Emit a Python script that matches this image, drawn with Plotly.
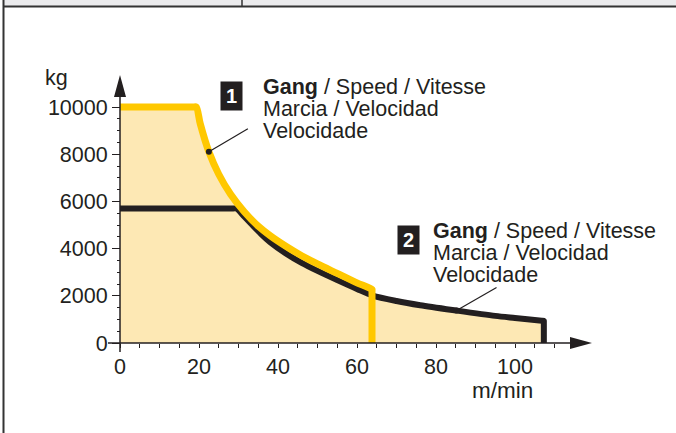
import plotly.graph_objects as go

# ---- data ----
gear1_speed = [0, 18.5, 19.3, 20.3, 22.5, 25, 28, 31.5, 35, 38, 42, 46, 50, 55, 60, 63.8, 63.8, 63.8]
gear1_load = [10000, 10000, 10000, 9300, 8100, 7150, 6300, 5550, 4950, 4550, 4100, 3700, 3350, 2950, 2550, 2270, 2230, 0]
gear2_speed = [0, 28.7, 29.5, 31.5, 33.5, 36, 38, 42, 46, 50, 55, 60, 64, 70, 76, 85, 95, 100, 106.8, 107.3, 107.3, 107.3]
gear2_load = [5700, 5700, 5700, 5350, 5000, 4575, 4275, 3795, 3395, 3055, 2665, 2290, 2010, 1780, 1600, 1380, 1150, 1060, 943, 935, 925, 0]
x_tick_labels = ["0", "20", "40", "60", "80", "100"]
y_tick_labels = ["0", "2000", "4000", "6000", "8000", "10000"]
label_lines = ["<b>Gang</b> / Speed / Vitesse", "Marcia / Velocidad", "Velocidade"]
pointer1 = (22.5, 8100)
pointer2 = (85.2, 1380)

# ---- geometry ----
W, H = 676, 433
X0PX, Y0PX = 120, 343          # pixel position of the origin
PX_X = 3.95                    # pixels per m/min
PX_Y = 47.2 / 2000             # pixels per kg
DARK = "#231f20"
YELLOW = "#ffc800"
FILL = "#fde8b4"
FONT = "Liberation Sans, Arial, sans-serif"
FS = 21.5

xr = [-X0PX / PX_X, (W - X0PX) / PX_X]
yr = [-(H - Y0PX) / PX_Y, Y0PX / PX_Y]

def ux(px):  # pixel length -> data units (x)
    return px / PX_X

def uy(px):
    return px / PX_Y

fig = go.Figure()

# fill area under the envelope
n1 = len(gear1_speed) - 2
fx = gear1_speed[:n1] + [s for s in gear2_speed if s > gear1_speed[-1]] + [0]
fy = gear1_load[:n1] + [l for s, l in zip(gear2_speed, gear2_load) if s > gear1_speed[-1]] + [0]
fig.add_trace(go.Scatter(x=fx, y=fy, fill="toself", fillcolor=FILL, mode="none",
                         hoverinfo="skip", showlegend=False))

fig.add_trace(go.Scatter(x=gear2_speed, y=gear2_load, mode="lines",
                         line=dict(color=DARK, width=6, shape="spline", smoothing=0.8),
                         showlegend=False))
fig.add_trace(go.Scatter(x=gear1_speed, y=gear1_load, mode="lines",
                         line=dict(color=YELLOW, width=7, shape="spline", smoothing=0.8),
                         showlegend=False))

# pointer dots
fig.add_trace(go.Scatter(x=[pointer1[0], pointer2[0]], y=[pointer1[1], pointer2[1]],
                         mode="markers", marker=dict(color=DARK, size=6), showlegend=False))

shapes = []
# pointer lines
for (px_, py_), (dx, dy) in [(pointer1, (39, 23)), (pointer2, (40, 23))]:
    shapes.append(dict(type="line", xref="x", yref="y", x0=px_, y0=py_,
                       x1=px_ + ux(dx), y1=py_ + uy(dy), line=dict(color=DARK, width=1.2)))

# axis lines with arrows
x_tip = ux(592 - X0PX)
y_tip = uy(Y0PX - 75)
shapes.append(dict(type="line", xref="x", yref="y", x0=-ux(12), y0=0, x1=x_tip - ux(10), y1=0,
                   line=dict(color=DARK, width=1.5)))
shapes.append(dict(type="line", xref="x", yref="y", x0=0, y0=-uy(9), x1=0, y1=y_tip - uy(10),
                   line=dict(color=DARK, width=1.5)))
shapes.append(dict(type="path", xref="x", yref="y",
                   path=f"M {x_tip - ux(22)} {uy(6)} L {x_tip} 0 L {x_tip - ux(22)} {-uy(6)} Z",
                   fillcolor=DARK, line=dict(width=0)))
shapes.append(dict(type="path", xref="x", yref="y",
                   path=f"M {-ux(6)} {y_tip - uy(22)} L 0 {y_tip} L {ux(6)} {y_tip - uy(22)} Z",
                   fillcolor=DARK, line=dict(width=0)))

# frame decoration (paper coords)
def pxx(px):
    return px / W

def pxy(py):
    return 1 - py / H

shapes.append(dict(type="rect", xref="paper", yref="paper", x0=pxx(4), x1=1, y0=pxy(6.5), y1=1,
                   fillcolor="#ebebed", line=dict(width=0), layer="below"))
shapes.append(dict(type="line", xref="paper", yref="paper", x0=pxx(3.5), x1=1, y0=pxy(6.5), y1=pxy(6.5),
                   line=dict(color="#333333", width=2)))
shapes.append(dict(type="line", xref="paper", yref="paper", x0=pxx(3.5), x1=pxx(3.5), y0=0, y1=1,
                   line=dict(color="#333333", width=2)))
shapes.append(dict(type="line", xref="paper", yref="paper", x0=pxx(242), x1=pxx(242), y0=pxy(6.5), y1=1,
                   line=dict(color="#333333", width=1.5)))

annotations = []
def txt(text, x, y, size=FS, xanchor="left", yanchor="middle", **kw):
    annotations.append(dict(text=text, x=pxx(x), y=pxy(y), xref="paper", yref="paper",
                            xanchor=xanchor, yanchor=yanchor, showarrow=False,
                            font=dict(family=FONT, size=size, color=DARK), **kw))

txt("kg", 56, 78, xanchor="center")
txt("m/min", 502, 390, size=22.5, xanchor="center")

for num, bx, tx, ty in [("1", 231, 261, 87), ("2", 408, 431, 231)]:
    annotations.append(dict(text=f"<b>{num}</b>", x=pxx(bx), y=pxy(ty + 9), xref="paper", yref="paper",
                            xanchor="center", yanchor="middle", showarrow=False, width=19, height=26,
                            bgcolor=DARK, font=dict(family=FONT, size=20, color="white")))
    for i, line in enumerate(label_lines):
        txt(line, tx, ty + 22 * i)

xt_vals = [5 * i for i in range(23)]
xt_text = [x_tick_labels[i // 4] if i % 4 == 0 and i // 4 < len(x_tick_labels) else "" for i in range(23)]

fig.update_layout(
    width=W, height=H, margin=dict(l=0, r=0, t=0, b=0),
    paper_bgcolor="white", plot_bgcolor="white",
    shapes=shapes, annotations=annotations, showlegend=False,
    xaxis=dict(range=xr, domain=[0, 1], anchor="free", position=pxy(Y0PX), showline=False,
               showgrid=False, zeroline=False, ticks="outside", ticklen=4, tickwidth=1.2,
               tickcolor=DARK, tickmode="array", tickvals=xt_vals, ticktext=xt_text,
               tickfont=dict(family=FONT, size=FS, color=DARK)),
    yaxis=dict(range=yr, domain=[0, 1], anchor="free", position=pxx(X0PX), showline=False,
               showgrid=False, zeroline=False, ticks="outside", ticklen=8, tickwidth=1.2,
               tickcolor=DARK, tickmode="array", tickvals=[2000 * i for i in range(6)],
               ticktext=y_tick_labels, tickfont=dict(family=FONT, size=FS, color=DARK),
               minor=dict(tickmode="array", tickvals=[500 * i for i in range(21) if i % 4],
                          ticks="outside", ticklen=3, tickwidth=1.2, tickcolor=DARK)),
)

fig.write_html("out.html", config={"displayModeBar": False},
               post_script="document.body.style.margin='0';")
